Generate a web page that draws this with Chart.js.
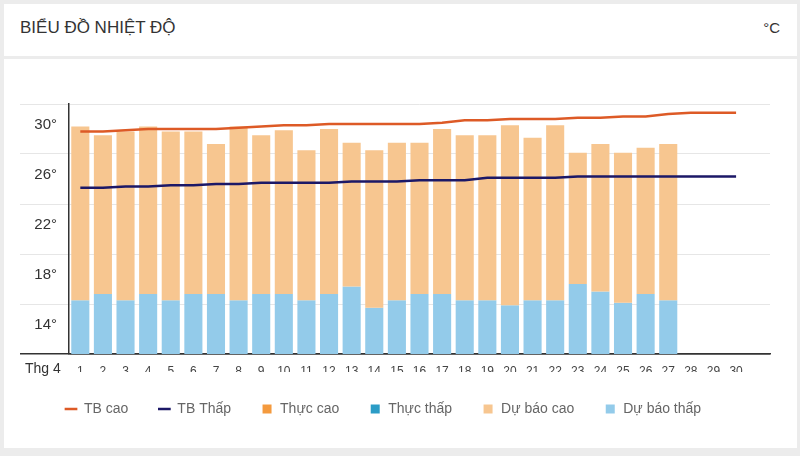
<!DOCTYPE html>
<html>
<head>
<meta charset="utf-8">
<script src="https://cdn.jsdelivr.net/npm/chart.js@4.4.1/dist/chart.umd.min.js"></script>
<style>
    html, body {
        margin: 0;
        padding: 0;
        width: 800px;
        height: 456px;
        background: #ececec;
        overflow: hidden;
        font-family: "Liberation Sans", Arial, sans-serif;
    }
    .panel {
        position: absolute;
        left: 4px;
        width: 793px;
        background: #ffffff;
    }
    #header {
        top: 4px;
        height: 52px;
    }
    #body {
        top: 59px;
        height: 389px;
    }
    #title {
        position: absolute;
        left: 16px;
        top: 14px;
        font-size: 17px;
        color: #333;
    }
    #unit {
        position: absolute;
        right: 17px;
        top: 15px;
        font-size: 15px;
        color: #333;
    }
    #month {
        position: absolute;
        left: 21px;
        top: 301px;
        font-size: 14px;
        color: #333;
    }
    canvas {
        position: absolute;
        left: 0;
        top: 0;
    }
</style>
</head>
<body>
<div class="panel" id="header">
    <span id="title">BIỂU ĐỒ NHIỆT ĐỘ</span>
    <span id="unit">°C</span>
</div>
<div class="panel" id="body">
    <canvas id="tempChart" width="793" height="389"></canvas>
    <span id="month">Thg 4</span>
</div>
<script>
// day labels, one empty slot after the 30th like the original axis
const days = ["1", "2", "3", "4", "5", "6", "7", "8", "9", "10",
    "11", "12", "13", "14", "15", "16", "17", "18", "19", "20",
    "21", "22", "23", "24", "25", "26", "27", "28", "29", "30", ""];

// average high / low for the month
const avgHigh = [29.8, 29.8, 29.9, 30.0, 30.0, 30.0, 30.0, 30.1, 30.2, 30.3,
    30.3, 30.4, 30.4, 30.4, 30.4, 30.4, 30.5, 30.7, 30.7, 30.8,
    30.8, 30.8, 30.9, 30.9, 31.0, 31.0, 31.2, 31.3, 31.3, 31.3];
const avgLow = [25.3, 25.3, 25.4, 25.4, 25.5, 25.5, 25.6, 25.6, 25.7, 25.7,
    25.7, 25.7, 25.8, 25.8, 25.8, 25.9, 25.9, 25.9, 26.1, 26.1,
    26.1, 26.1, 26.2, 26.2, 26.2, 26.2, 26.2, 26.2, 26.2, 26.2];

// forecast high / low (days 1..27)
const forecastHigh = [30.2, 29.5, 29.8, 30.2, 29.8, 29.8, 28.8, 30.2, 29.5, 29.9,
    28.3, 30.0, 28.9, 28.3, 28.9, 28.9, 30.0, 29.5, 29.5, 30.3,
    29.3, 30.3, 28.1, 28.8, 28.1, 28.5, 28.8];
const forecastLow = [16.3, 16.8, 16.3, 16.8, 16.3, 16.8, 16.8, 16.3, 16.8, 16.8,
    16.3, 16.8, 17.4, 15.7, 16.3, 16.8, 16.8, 16.3, 16.3, 15.9,
    16.3, 16.3, 17.6, 17.0, 16.1, 16.8, 16.3];

// measured values (none yet)
const actualHigh = [];
const actualLow = [];

const Y_MIN = 12;
const Y_MAX = 32;

const FONT = "'Liberation Sans', Arial, sans-serif";


class TemperatureChart {

    constructor(canvasId) {
        const self = this;
        self._canvasId = canvasId;
    }

    render() {
        const self = this;
        new Chart(document.getElementById(self._canvasId), self._getConfig());
    }

    _getDatasets() {
        const forecastRange = forecastLow.map((low, i) => [low, forecastHigh[i]]);
        return [
            {
                type: "line",
                label: "TB cao",
                data: avgHigh,
                borderColor: "#dd5a26",
                backgroundColor: "#dd5a26",
                borderWidth: 2.5,
                pointRadius: 0,
                pointStyle: "line",
                order: 0
            },
            {
                type: "line",
                label: "TB Thấp",
                data: avgLow,
                borderColor: "#1c1867",
                backgroundColor: "#1c1867",
                borderWidth: 2.5,
                pointRadius: 0,
                pointStyle: "line",
                order: 1
            },
            {
                label: "Thực cao",
                data: actualHigh,
                backgroundColor: "#f49a3e",
                pointStyle: "rect",
                order: 2
            },
            {
                label: "Thực thấp",
                data: actualLow,
                backgroundColor: "#2b9cc6",
                pointStyle: "rect",
                order: 3
            },
            {
                label: "Dự báo cao",
                data: forecastRange,
                backgroundColor: "#f7c690",
                pointStyle: "rect",
                order: 4
            },
            {
                label: "Dự báo thấp",
                data: forecastLow,
                backgroundColor: "#93cbea",
                pointStyle: "rect",
                order: 5
            }
        ];
    }

    _getConfig() {
        const self = this;
        return {
            type: "bar",
            data: {
                labels: days,
                datasets: self._getDatasets()
            },
            options: {
                responsive: false,
                animation: false,
                layout: {
                    padding: {left: 31, right: 27, top: 45, bottom: 22}
                },
                datasets: {
                    bar: {
                        grouped: false,
                        barPercentage: 0.8,
                        categoryPercentage: 1.0
                    }
                },
                plugins: {
                    tooltip: {enabled: false},
                    legend: {
                        position: "bottom",
                        align: "start",
                        labels: {
                            usePointStyle: true,
                            boxWidth: 12,
                            boxHeight: 9,
                            padding: 30,
                            color: "#666",
                            font: {family: FONT, size: 14}
                        }
                    }
                },
                scales: {
                    x: {
                        grid: {display: false, drawTicks: false},
                        border: {display: true, color: "#333", width: 1.5},
                        ticks: {
                            color: "#444",
                            padding: 10,
                            autoSkip: false,
                            maxRotation: 0,
                            font: {family: FONT, size: 12}
                        },
                        afterFit: (scale) => { scale.height = 18; }
                    },
                    y: {
                        min: Y_MIN,
                        max: Y_MAX,
                        border: {display: true, color: "#333", width: 1.5},
                        grid: {
                            tickLength: 49,
                            color: (ctx) => {
                                const v = ctx.tick.value;
                                if (v === Y_MIN) return "#333";
                                return v % 4 === 0 ? "#e6e6e6" : "rgba(0,0,0,0)";
                            },
                            lineWidth: (ctx) => ctx.tick.value === Y_MIN ? 1.5 : 1
                        },
                        ticks: {
                            stepSize: 2,
                            padding: -37,
                            labelOffset: -4,
                            color: "#333",
                            font: {family: FONT, size: 15},
                            callback: (value) => value % 4 === 2 ? value + "°" : ""
                        },
                        afterFit: (scale) => { scale.width = 34; }
                    }
                }
            }
        };
    }

}

new TemperatureChart("tempChart").render();
</script>
</body>
</html>
